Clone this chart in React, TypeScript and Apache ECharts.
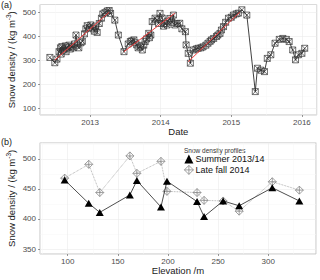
import React, { useEffect, useRef } from 'react';
import * as echarts from 'echarts';

const FONT = '"Liberation Sans", Arial, Helvetica, sans-serif';

// Panel (a): snow density time series (decimal years)
const obsDates = [
  2012.43, 2012.50, 2012.53, 2012.56, 2012.58, 2012.59, 2012.60, 2012.62, 2012.65, 2012.66,
  2012.67, 2012.70, 2012.72, 2012.74, 2012.76, 2012.78, 2012.80, 2012.82, 2012.84, 2012.87,
  2012.89, 2012.92, 2012.94, 2012.96, 2012.99, 2013.01, 2013.04, 2013.06, 2013.08, 2013.10,
  2013.13, 2013.16, 2013.18, 2013.21, 2013.24, 2013.27, 2013.29, 2013.35, 2013.40, 2013.48,
  2013.54, 2013.57, 2013.59, 2013.62, 2013.64, 2013.66, 2013.68, 2013.71, 2013.74, 2013.76,
  2013.78, 2013.80, 2013.83, 2013.84, 2013.86, 2013.88, 2013.92, 2013.95, 2013.97, 2013.99,
  2014.02, 2014.04, 2014.06, 2014.09, 2014.10, 2014.13, 2014.16, 2014.18, 2014.20, 2014.23,
  2014.27, 2014.30, 2014.35, 2014.36, 2014.39, 2014.42, 2014.46, 2014.50, 2014.53, 2014.57,
  2014.60, 2014.64, 2014.67, 2014.70, 2014.72, 2014.75, 2014.79, 2014.81, 2014.84, 2014.86,
  2014.89, 2014.92, 2014.96, 2015.00, 2015.03, 2015.07, 2015.10, 2015.15, 2015.22, 2015.34,
  2015.37, 2015.42, 2015.47, 2015.51, 2015.56, 2015.62, 2015.68, 2015.73, 2015.78, 2015.82,
  2015.87, 2015.91, 2015.95, 2016.00, 2016.04,
];
const obsDensity = [
  313, 291, 306, 337, 353, 327, 358, 343, 361, 337,
  353, 364, 348, 358, 353, 369, 406, 364, 353, 374,
  380, 411, 432, 445, 438, 448, 432, 422, 443, 417,
  454, 476, 494, 499, 506, 508, 496, 468, 406, 337,
  369, 379, 382, 386, 374, 365, 353, 357, 344, 364,
  379, 390, 413, 395, 406, 462, 476, 469, 454, 496,
  477, 443, 454, 448, 464, 475, 459, 489, 448, 454,
  455, 432, 420, 365, 330, 289, 344, 348, 351, 353,
  357, 364, 372, 380, 386, 392, 400, 406, 413, 427,
  441, 459, 476, 480, 489, 494, 497, 511, 489, 171,
  268, 260, 254, 309, 324, 372, 388, 392, 388, 379,
  344, 303, 324, 330, 351,
];
// Linear trend segments (start/end)
const trend1Dates = [2012.50, 2013.27];
const trend1Vals = [302, 501];
const trend2Dates = [2013.48, 2014.20];
const trend2Vals = [337, 497];
const trend3Dates = [2014.39, 2015.12];
const trend3Vals = [295, 501];

// Panel (b): density profiles vs elevation
const elevations = [97, 121, 132, 162, 169, 193, 199, 229, 236, 255, 271, 304, 331];
const summerDensity = [465, 426, 411, 440, 464, 420, 463, 429, 404, 430, 422, 452, 430];
const lateFallDensity = [468, 491, 444, 505, 476, 496, 446, 444, 431, 430, 413, 462, 448];

const SQUARE_CROSS = 'path://M0,0H10V10H0Z M0,0L10,10 M10,0L0,10';
const DIAMOND_PLUS = 'path://M5,0L10,5L5,10L0,5Z M5,0L5,10 M0,5L10,5';

const zip = (a: number[], b: number[]) => a.map((v, i) => [v, b[i]]);

const gridLine = { show: true, lineStyle: { color: '#ebebeb', width: 0.6 } };
const minorLine = { show: true, lineStyle: { color: '#f6f6f6', width: 0.5 } };
const tickStyle = { show: true, length: 2, lineStyle: { color: '#555', width: 0.6 } };
const labelBase = { fontSize: 8, color: '#4d4d4d', fontFamily: FONT, showMinLabel: false, showMaxLabel: false };
const yName = '{a|Snow density / (kg m}{s|-3}{a|)}';
const yNameStyle = {
  fontFamily: FONT,
  rich: {
    a: { fontSize: 9.5, color: '#1a1a1a', fontFamily: FONT },
    s: { fontSize: 6.5, color: '#1a1a1a', fontFamily: FONT, padding: [0, 0, 6, 0] },
  },
};

export default function App() {
  const ref = useRef<HTMLDivElement>(null);
  useEffect(() => {
    const chart = echarts.init(ref.current!, null, { renderer: 'svg' });
    const option: any = {
      animation: false,
      backgroundColor: '#ffffff',
      textStyle: { fontFamily: FONT },
      grid: [
        { left: 40, top: 4.5, width: 276.7, height: 110.5, show: true, borderColor: '#c4c4c4', borderWidth: 1, containLabel: false, outerBoundsMode: 'none' },
        { left: 40, top: 142.7, width: 276, height: 111.3, show: true, borderColor: '#c4c4c4', borderWidth: 1, containLabel: false, outerBoundsMode: 'none' },
      ],
      xAxis: [
        {
          type: 'value', gridIndex: 0, min: 2012.29, max: 2016.21, splitNumber: 5,
          axisLine: { show: false }, axisTick: tickStyle,
          axisLabel: { ...labelBase, margin: 3, formatter: (v: number) => String(Math.round(v)) },
          splitLine: gridLine, minorTick: { show: false, splitNumber: 2 }, minorSplitLine: minorLine,
          name: 'Date', nameLocation: 'middle', nameGap: 11, nameMoveOverlap: false,
          nameTextStyle: { fontSize: 9.5, color: '#1a1a1a', fontFamily: FONT },
        },
        {
          type: 'value', gridIndex: 1, min: 72.4, max: 347.6, splitNumber: 5,
          axisLine: { show: false }, axisTick: tickStyle,
          axisLabel: { ...labelBase, margin: 3 },
          splitLine: gridLine, minorTick: { show: false, splitNumber: 2 }, minorSplitLine: minorLine,
          name: 'Elevation /m', nameLocation: 'middle', nameGap: 11, nameMoveOverlap: false,
          nameTextStyle: { fontSize: 9.5, color: '#1a1a1a', fontFamily: FONT },
        },
      ],
      yAxis: [
        {
          type: 'value', gridIndex: 0, min: 73.7, max: 533, splitNumber: 5,
          axisLine: { show: false }, axisTick: tickStyle,
          axisLabel: { ...labelBase, margin: 4 },
          splitLine: gridLine, minorTick: { show: false, splitNumber: 2 }, minorSplitLine: minorLine,
          name: yName, nameLocation: 'middle', nameGap: 22, nameRotate: 90, nameMoveOverlap: false,
          nameTextStyle: yNameStyle,
        },
        {
          type: 'value', gridIndex: 1, min: 341.7, max: 527, splitNumber: 4,
          axisLine: { show: false }, axisTick: tickStyle,
          axisLabel: { ...labelBase, margin: 4 },
          splitLine: gridLine, minorTick: { show: false, splitNumber: 2 }, minorSplitLine: minorLine,
          name: yName, nameLocation: 'middle', nameGap: 22, nameRotate: 90, nameMoveOverlap: false,
          nameTextStyle: yNameStyle,
        },
      ],
      legend: {
        left: 184, top: 154.5, orient: 'vertical', itemWidth: 9, itemHeight: 9, itemGap: 1.5, padding: 0,
        textStyle: { fontSize: 9, color: '#111', fontFamily: FONT, padding: [0, 0, 0, -3] },
        data: [
          { name: 'Summer 2013/14', icon: 'triangle', itemStyle: { color: '#000', borderWidth: 0 } },
          { name: 'Late fall 2014', icon: DIAMOND_PLUS, itemStyle: { color: 'rgba(0,0,0,0)', borderColor: '#888', borderWidth: 0.8 } },
        ],
      },
      graphic: [
        { type: 'text', left: 1, top: 0, style: { text: '(a)', fontSize: 9, fill: '#1a1a1a', fontFamily: FONT } },
        { type: 'text', left: 1, top: 137, style: { text: '(b)', fontSize: 9, fill: '#1a1a1a', fontFamily: FONT } },
        { type: 'text', left: 184, top: 147, style: { text: 'Snow density profiles', fontSize: 6.5, fill: '#333', fontFamily: FONT } },
      ],
      series: [
        {
          type: 'line', xAxisIndex: 0, yAxisIndex: 0, data: zip(obsDates, obsDensity),
          symbol: SQUARE_CROSS, symbolSize: 6, showAllSymbol: true,
          lineStyle: { color: '#111', width: 0.8 },
          itemStyle: { color: 'rgba(0,0,0,0)', borderColor: '#333', borderWidth: 0.7 },
          z: 2,
        },
        ...[[trend1Dates, trend1Vals], [trend2Dates, trend2Vals], [trend3Dates, trend3Vals]].map(([d, v]) => ({
          type: 'line', xAxisIndex: 0, yAxisIndex: 0, data: zip(d, v), symbol: 'none',
          lineStyle: { color: '#f03c3c', width: 1 }, z: 3, silent: true,
        })),
        {
          name: 'Late fall 2014', type: 'line', xAxisIndex: 1, yAxisIndex: 1, data: zip(elevations, lateFallDensity),
          symbol: DIAMOND_PLUS, symbolSize: 8,
          lineStyle: { color: '#9a9a9a', width: 0.8, type: 'dotted' },
          itemStyle: { color: 'rgba(0,0,0,0)', borderColor: '#888', borderWidth: 0.8 },
          z: 2,
        },
        {
          name: 'Summer 2013/14', type: 'line', xAxisIndex: 1, yAxisIndex: 1, data: zip(elevations, summerDensity),
          symbol: 'triangle', symbolSize: [8, 7],
          lineStyle: { color: '#222', width: 0.8 },
          itemStyle: { color: '#000' },
          z: 3,
        },
      ],
    };
    chart.setOption(option);
    return () => chart.dispose();
  }, []);
  return <div ref={ref} style={{ position: 'fixed', left: 0, top: 0, width: 320, height: 280, background: '#fff' }} />;
}
